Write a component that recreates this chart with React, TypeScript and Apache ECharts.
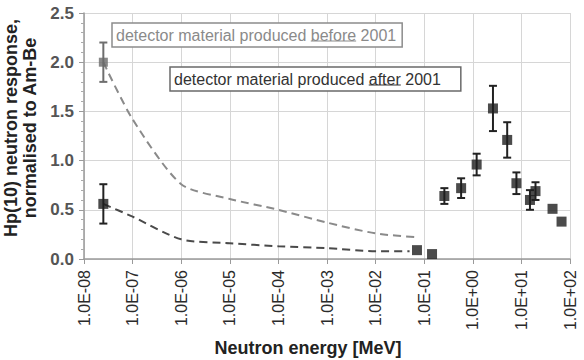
import React, { useEffect, useRef } from "react";
import * as echarts from "echarts";

// Neutron energy [MeV] and normalised response
const beforeCurveE = [2.5e-8, 1e-7, 1e-6, 1e-5, 1e-4, 1e-3, 1e-2, 7.5e-2];
const beforeCurveR = [2.0, 1.42, 0.76, 0.61, 0.5, 0.37, 0.26, 0.22];
const afterCurveE = [2.5e-8, 1e-7, 1e-6, 1e-5, 1e-4, 1e-3, 1e-2, 5e-2];
const afterCurveR = [0.56, 0.43, 0.2, 0.16, 0.13, 0.11, 0.08, 0.08];

const beforePointE = [2.5e-8];
const beforePointR = [2.0];
const beforePointErr = [0.2];

const afterPointE = [2.5e-8, 7.1e-2, 1.45e-1, 0.26, 0.575, 1.2, 2.6, 5.1, 7.9, 15, 19.5, 43.7, 67];
const afterPointR = [0.56, 0.09, 0.05, 0.64, 0.72, 0.96, 1.53, 1.21, 0.77, 0.6, 0.69, 0.51, 0.38];
const afterPointErr = [0.2, 0, 0, 0.08, 0.1, 0.11, 0.23, 0.18, 0.11, 0.1, 0.09, 0, 0];

const yTicks = [0, 0.5, 1.0, 1.5, 2.0, 2.5];
const xTickExponents = [-8, -7, -6, -5, -4, -3, -2, -1, 0, 1, 2];

const FONT = '"Liberation Sans", Arial, Helvetica, sans-serif';

function fmtExp(v: number) {
  const e = Math.round(Math.log10(v));
  const sign = e < 0 ? "-" : "+";
  return "1.0E" + sign + String(Math.abs(e)).padStart(2, "0");
}

export default function App() {
  const ref = useRef<HTMLDivElement>(null);
  useEffect(() => {
    if (!ref.current) return;
    document.body.style.margin = "0";
    const chart = echarts.init(ref.current, undefined, { renderer: "svg" });

    const ctx = document.createElement("canvas").getContext("2d")!;
    ctx.font = "16px " + FONT;
    const w = (s: string) => ctx.measureText(s).width;
    const prefix = "detector material produced ";

    const box1 = { x: 112, y: 23, tx: 116 };
    const box2 = { x: 170, y: 67, tx: 174 };
    const t1 = prefix + "before 2001";
    const t2 = prefix + "after 2001";

    const zip = (a: number[], b: number[]) => a.map((v, i) => [v, b[i]]);
    const zip3 = (a: number[], b: number[], c: number[]) => a.map((v, i) => [v, b[i], c[i]]);

    const errRender = (color: string) => (params: any, api: any) => {
      const x = api.value(0);
      const y = api.value(1);
      const e = api.value(2);
      if (!e) return null;
      const top = api.coord([x, y + e]);
      const bot = api.coord([x, y - e]);
      const hw = 4;
      const st = { stroke: color, lineWidth: 2 };
      return {
        type: "group",
        children: [
          { type: "line", shape: { x1: top[0], y1: top[1], x2: bot[0], y2: bot[1] }, style: st },
          { type: "line", shape: { x1: top[0] - hw, y1: top[1], x2: top[0] + hw, y2: top[1] }, style: st },
          { type: "line", shape: { x1: bot[0] - hw, y1: bot[1], x2: bot[0] + hw, y2: bot[1] }, style: st },
        ],
      };
    };

    chart.setOption({
      animation: false,
      backgroundColor: "#fff",
      grid: { left: 84, right: 14, top: 13, bottom: 101, containLabel: false },
      xAxis: {
        type: "log",
        logBase: 10,
        min: Math.pow(10, xTickExponents[0]),
        max: Math.pow(10, xTickExponents[xTickExponents.length - 1]),
        interval: 1,
        splitNumber: 10,
        axisLine: { show: true, lineStyle: { color: "#9a9a9a", width: 1.5 } },
        axisTick: { show: true, length: 5, interval: 0, lineStyle: { color: "#9a9a9a" } },
        splitLine: { show: true, interval: 0, lineStyle: { color: "#d6d6d6", width: 1 } },
        axisLabel: {
          rotate: 90,
          margin: 11,
          interval: 0,
          color: "#2a2a2a",
          fontSize: 16,
          fontFamily: FONT,
          formatter: (v: number) => fmtExp(v),
        },
      },
      yAxis: {
        type: "value",
        min: yTicks[0],
        max: yTicks[yTicks.length - 1],
        interval: 0.5,
        axisLine: { show: true, lineStyle: { color: "#9a9a9a", width: 1.5 } },
        axisTick: { show: true, length: 5, lineStyle: { color: "#9a9a9a" } },
        minorTick: { show: true, splitNumber: 5, length: 3, lineStyle: { color: "#aaa" } },
        splitLine: { show: true, lineStyle: { color: "#d6d6d6", width: 1 } },
        axisLabel: {
          margin: 10,
          color: "#555",
          fontSize: 17,
          fontWeight: "bold",
          fontFamily: FONT,
          formatter: (v: number) => v.toFixed(1),
        },
      },
      series: [
        {
          type: "line",
          data: zip(beforeCurveE, beforeCurveR),
          showSymbol: false,
          smooth: 0.25,
          lineStyle: { color: "#8a8a8a", width: 2, type: [8, 5] },
          z: 2,
        },
        {
          type: "line",
          data: zip(afterCurveE, afterCurveR),
          showSymbol: false,
          smooth: 0.25,
          lineStyle: { color: "#4a4a4a", width: 2, type: [8, 5] },
          z: 2,
        },
        {
          type: "custom",
          data: zip3(beforePointE, beforePointR, beforePointErr),
          encode: { x: 0, y: 1 },
          renderItem: errRender("#6e6e6e"),
          z: 3,
        },
        {
          type: "custom",
          data: zip3(afterPointE, afterPointR, afterPointErr),
          encode: { x: 0, y: 1 },
          renderItem: errRender("#222"),
          z: 3,
        },
        {
          type: "scatter",
          data: zip(beforePointE, beforePointR),
          symbol: "rect",
          symbolSize: 9,
          itemStyle: { color: "#6a6a6a" },
          z: 4,
        },
        {
          type: "scatter",
          data: zip(afterPointE, afterPointR),
          symbol: "rect",
          symbolSize: 10,
          itemStyle: { color: "#1e1e1e" },
          z: 4,
        },
      ],
      graphic: [
        {
          type: "rect",
          shape: { x: box1.x, y: box1.y, width: w(t1) + 10, height: 24 },
          style: { fill: "#fff", stroke: "#8c8c8c", lineWidth: 1.5 },
          z: 10,
        },
        {
          type: "text",
          x: box1.tx,
          y: box1.y + 12,
          style: { text: t1, fill: "#8a8a8a", font: "16px " + FONT, verticalAlign: "middle" },
          z: 11,
        },
        {
          type: "line",
          shape: {
            x1: box1.tx + w(prefix),
            y1: box1.y + 18,
            x2: box1.tx + w(prefix + "before"),
            y2: box1.y + 18,
          },
          style: { stroke: "#8a8a8a", lineWidth: 1 },
          z: 11,
        },
        {
          type: "rect",
          shape: { x: box2.x, y: box2.y, width: w(t2) + 24, height: 24 },
          style: { fill: "#fff", stroke: "#6a6a6a", lineWidth: 1.5 },
          z: 10,
        },
        {
          type: "text",
          x: box2.tx,
          y: box2.y + 12,
          style: { text: t2, fill: "#333", font: "16px " + FONT, verticalAlign: "middle" },
          z: 11,
        },
        {
          type: "line",
          shape: {
            x1: box2.tx + w(prefix),
            y1: box2.y + 18,
            x2: box2.tx + w(prefix + "after"),
            y2: box2.y + 18,
          },
          style: { stroke: "#333", lineWidth: 1 },
          z: 11,
        },
        {
          type: "text",
          x: 20,
          y: 128,
          rotation: Math.PI / 2,
          style: {
            text: "Hp(10) neutron response,\nnormalised to Am-Be",
            fill: "#222",
            font: "bold 18px " + FONT,
            align: "center",
            verticalAlign: "middle",
            lineHeight: 19,
          },
        },
        {
          type: "text",
          x: 308,
          y: 348,
          style: {
            text: "Neutron energy [MeV]",
            fill: "#222",
            font: "bold 18px " + FONT,
            align: "center",
            verticalAlign: "middle",
          },
        },
      ],
    });
    return () => chart.dispose();
  }, []);
  return <div ref={ref} style={{ width: 584, height: 360 }} />;
}
